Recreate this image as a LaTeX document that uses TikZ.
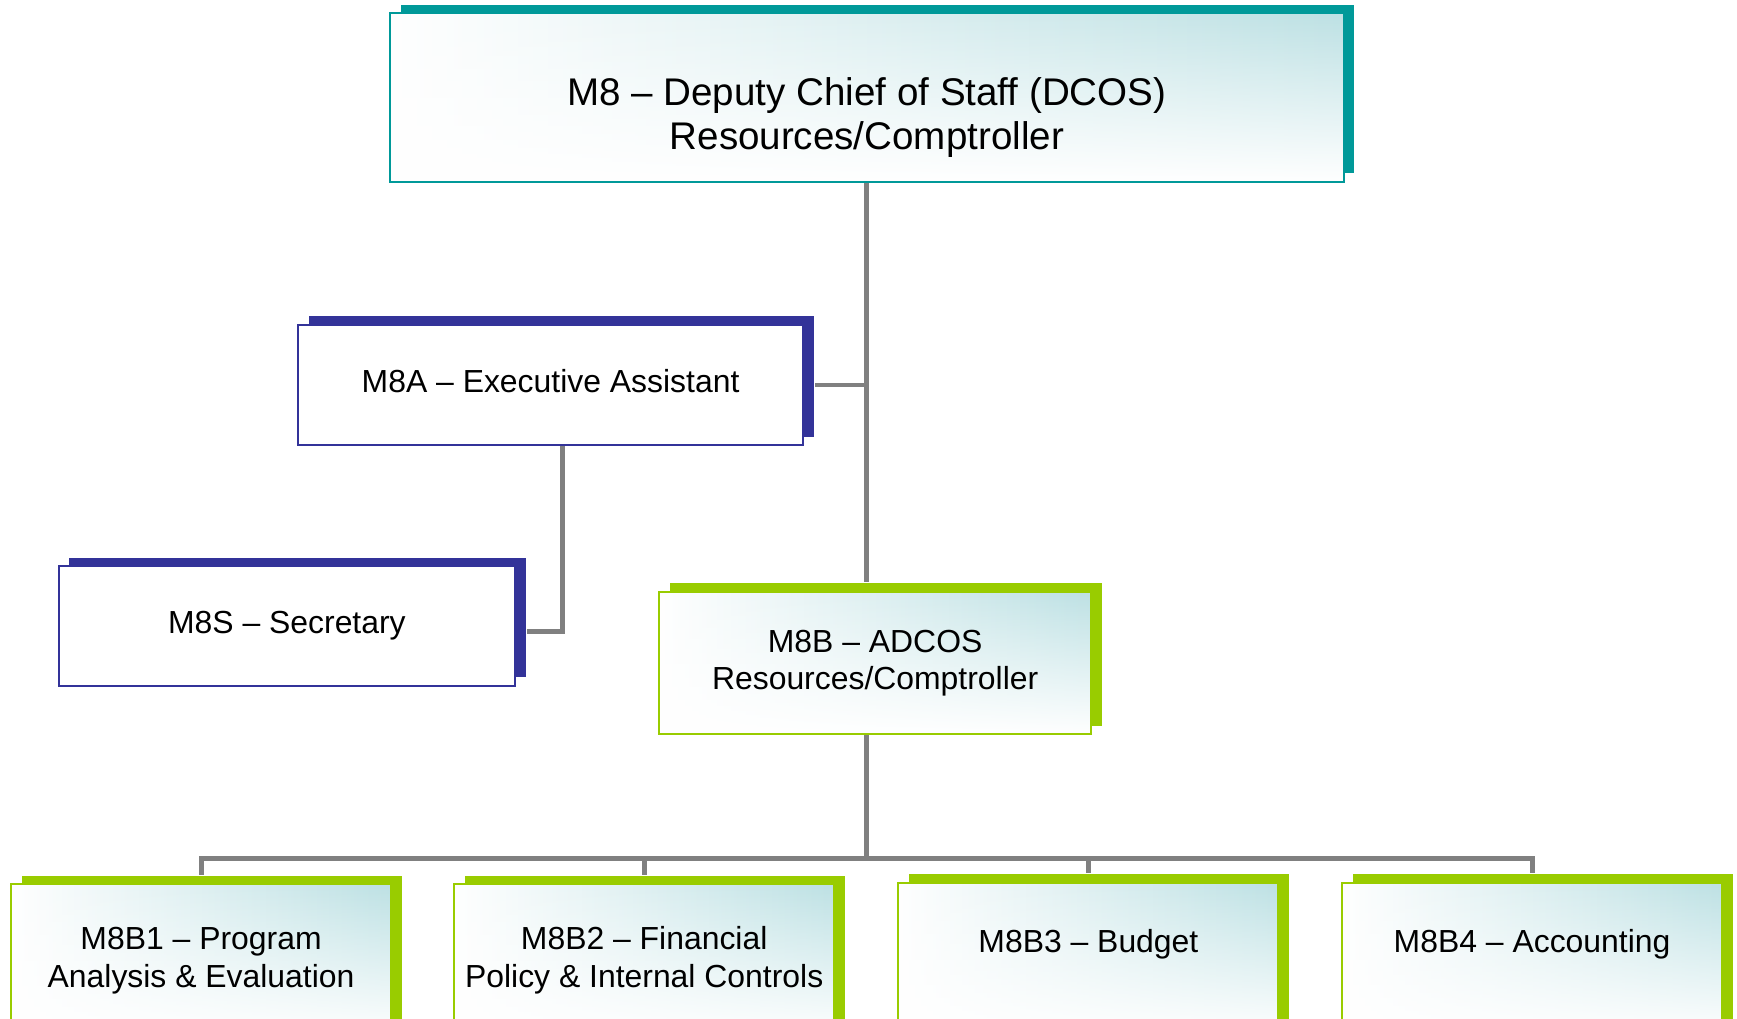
\documentclass[tikz,border=0pt]{standalone}
\usepackage{fontspec}
\setmainfont{Liberation Sans}
\usetikzlibrary{shadows,fadings}

% box and line colours
\definecolor{dcosteal}{RGB}{0,153,153}
\definecolor{staffblue}{RGB}{51,51,153}
\definecolor{branchgreen}{RGB}{153,204,0}
\definecolor{linkgrey}{RGB}{128,128,128}
\definecolor{paleteal}{RGB}{189,225,228}

% left transparent -> right opaque, top transparent -> bottom opaque
\tikzfading[name=washright, left color=transparent!100, right color=transparent!0]
\tikzfading[name=washdown, top color=transparent!100, bottom color=transparent!0]

\tikzset{
  orgbox/.style={draw=#1, line width=0.9pt, fill=white, align=center, inner sep=0pt,
    drop shadow={shadow xshift=4.8pt, shadow yshift=3.8pt, fill=#1, opacity=1}},
  tealwash/.style={path picture={
    \fill[paleteal, path fading=washright] (path picture bounding box.south west) rectangle (path picture bounding box.north east);
    \fill[white, path fading=washdown] (path picture bounding box.south west) rectangle (path picture bounding box.north east);}},
  link/.style={draw=linkgrey, line width=2.2pt},
  bigtext/.style={font=\fontsize{17.4}{20}\selectfont},
  midtext/.style={font=\fontsize{14.4}{17}\selectfont}
}

\begin{document}
\begin{tikzpicture}[x=0.5pt, y=-0.5pt]

\useasboundingbox (0,0) rectangle (1568,919);
\clip (0,0) rectangle (1568,919);

% DCOS
\node[orgbox=dcosteal, tealwash, minimum width=430.5pt, minimum height=76pt] (dcos) at (782.5,88) {};
\node[bigtext, align=center] (dcoslbl) at ([yshift=-9pt]dcos.center) {M8 – Deputy Chief of Staff (DCOS)\\Resources/Comptroller};

% Staff
\node[orgbox=staffblue, midtext, text depth=4pt, minimum width=228pt, minimum height=54.5pt] (exec) at (497,347.5) {M8A – Executive Assistant};
\node[orgbox=staffblue, midtext, minimum width=206pt, minimum height=54pt] (secr) at (259,565) {M8S – Secretary};

% ADCOS
\node[orgbox=branchgreen, tealwash, midtext, minimum width=195pt, minimum height=64.5pt] (adcos) at (790,598.5) {M8B – ADCOS\\Resources/Comptroller};

% Branches
\node[orgbox=branchgreen, tealwash, midtext, minimum width=171.5pt, minimum height=69pt] (progeval) at (181.5,867) {M8B1 – Program\\Analysis \& Evaluation};
\node[orgbox=branchgreen, tealwash, midtext, minimum width=171.5pt, minimum height=69pt] (finpol) at (581.5,867) {M8B2 – Financial\\Policy \& Internal Controls};
\node[orgbox=branchgreen, tealwash, midtext, minimum width=171.5pt, minimum height=69pt] (budget) at (982.5,866) {M8B3 – Budget\\\mbox{}};
\node[orgbox=branchgreen, tealwash, midtext, minimum width=171.5pt, minimum height=69pt] (acctg) at (1383,866) {M8B4 – Accounting\\\mbox{}};

% Lines
\coordinate (bus) at (782.5,775);
\draw[link] (dcos.south) -- ([yshift=3.8pt]dcos.south |- adcos.north);
\draw[link] (adcos.south -| bus) -- (bus);
\draw[link] (dcos.south |- exec.east) -- ([xshift=4.8pt]exec.east);
\draw[link] ([xshift=5.5pt]exec.south) |- ([xshift=4.8pt, yshift=-2.5pt]secr.east);
\draw[link] ([yshift=3.8pt]progeval.north) -- (progeval.north |- bus) -- (acctg.north |- bus) -- ([yshift=3.8pt]acctg.north);
\draw[link] (finpol.north |- bus) -- ([yshift=3.8pt]finpol.north);
\draw[link] (budget.north |- bus) -- ([yshift=3.8pt]budget.north);

\end{tikzpicture}
\end{document}
